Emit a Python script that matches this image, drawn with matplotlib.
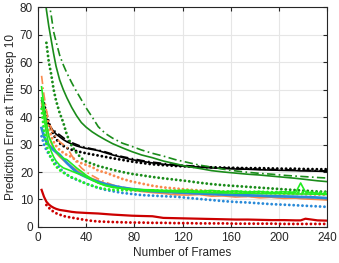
import numpy as np
import matplotlib
matplotlib.use("Agg")
import matplotlib.pyplot as plt

nan = np.nan
frames = [3, 5, 7, 9, 11, 13, 15, 18, 21, 24, 28, 32, 36, 40, 45, 50, 56, 62, 70, 78, 86, 95,
          104, 114, 124, 134, 144, 154, 164, 174, 184, 194, 204, 214, 218, 222, 232, 240]

dg_solid = [110, 88, 79, 73, 68, 63, 58.5, 53.5, 50, 47, 43.5, 40.5, 38, 36.3, 34.6, 33.2, 31.7, 30.3, 28.8, 27.4, 26.2, 25.2,
            24.0, 23.0, 22.0, 21.3, 20.5, 20.0, 19.6, 19.2, 18.9, 18.5, 18.1, 17.7, 17.5, 17.3, 16.8, 16.5]
dg_dashdot = [150, 120, 95, 82, 77, 71, 67.5, 62.5, 59, 56, 52.5, 49.3, 46.3, 43.3, 40, 36.5, 34, 32.3, 30.5, 29.3, 28, 26.8,
              25.8, 24.5, 23.5, 22.5, 21.8, 21.0, 20.4, 19.9, 19.5, 19.2, 18.8, 18.5, 18.4, 18.3, 18.0, 17.8]
dg_dot = [nan, nan, 67, 60, 55.5, 50, 46, 41.5, 38, 33.5, 29.5, 27, 25, 23.8, 23, 22.2, 21.5, 20.8, 20, 19.3, 18.8, 18.2,
          17.7, 17.2, 16.7, 16.1, 15.6, 15.2, 14.9, 14.6, 14.3, 14.0, 13.7, 13.4, 13.3, 13.2, 12.9, 12.8]

bk_solid = [46, 42, 39.5, 37.5, 36, 34.8, 33.8, 32.8, 31.8, 31, 30.2, 29.5, 29, 28.6, 28.2, 27.8, 27, 26.2, 25.3, 24.5, 23.9, 23.3,
            22.8, 22.4, 22.0, 21.8, 21.5, 21.3, 21.1, 21.0, 20.8, 20.7, 20.6, 20.5, 20.4, 20.4, 20.3, 20.2]
bk_dashdot = [44, 41, 38.5, 37, 36, 35.3, 34.5, 33.5, 32.5, 31.5, 30.7, 30, 29.3, 28.9, 28.4, 28, 27.3, 26.5, 25.6, 24.9, 24.2, 23.6,
              23.1, 22.7, 22.3, 22.0, 21.7, 21.5, 21.3, 21.2, 21.0, 20.9, 20.8, 20.7, 20.7, 20.6, 20.5, 20.4]
bk_dot = [nan, 45, 41, 38, 35.5, 33.5, 32, 30.5, 29.5, 28.7, 28.1, 27.6, 27.2, 26.8, 26.4, 26, 25.5, 25, 24.4, 23.8, 23.3, 22.8,
          22.5, 22.2, 22.0, 21.8, 21.7, 21.6, 21.5, 21.4, 21.4, 21.3, 21.2, 21.2, 21.1, 21.1, 21.0, 21.0]

or_dashdot = [55, 48, 42.5, 38.5, 36, 34, 32.5, 31, 30, 29, 26, 23.5, 21.5, 20, 18.7, 17.5, 16.3, 15.3, 14.5, 13.9, 13.4, 13.0,
              12.6, 12.3, 12.1, 11.9, 11.7, 11.5, 11.3, 11.1, 11.0, 10.8, 10.7, 10.6, 10.5, 10.5, 10.4, 10.3]
or_solid = [45, 40, 36, 33, 30.5, 28.5, 27, 25.5, 24.3, 23.2, 22, 20.8, 19.6, 18.6, 17.6, 16.8, 15.8, 14.8, 14, 13.4, 12.9, 12.5,
            12.2, 11.7, 11.6, 11.8, 11.2, 11.3, 10.9, 11.1, 10.6, 10.8, 10.4, 10.5, 10.3, 10.2, 10.0, 9.8]
or_dot = [nan, nan, 40, 36, 33, 31, 29.5, 28, 27, 26.2, 25.5, 24, 23.2, 22.6, 21.8, 20.5, 19.8, 18.8, 17.5, 16.5, 15.8, 15.0,
          14.4, 14.0, 13.6, 13.3, 13.0, 12.8, 12.6, 12.5, 12.3, 12.2, 12.1, 12.0, 12.0, 11.9, 11.8, 11.7]

lg_solid = [51, 44, 38, 33, 31, 29, 27.5, 26, 25, 24.5, 23, 21.5, 20.2, 18.8, 17.3, 16, 15, 14.4, 14.0, 13.8, 13.6, 13.5,
            13.3, 13.2, 13.4, 12.9, 13.3, 12.8, 13.1, 12.7, 12.9, 12.5, 12.8, 12.6, 16.0, 12.7, 12.3, 12.0]
lg_dashdot = [47, 40, 34, 30, 27.5, 25.5, 24, 22.5, 21.5, 21, 20.3, 19.6, 19, 18.2, 17, 16, 15.2, 14.6, 14, 13.6, 13.3, 13.1,
              12.9, 12.8, 12.7, 12.6, 12.5, 12.4, 12.3, 12.3, 12.2, 12.1, 12.1, 12.0, 12.0, 12.0, 11.9, 11.8]
lg_dot = [43, 35, 30, 27, 25, 23.2, 22, 20.7, 19.8, 19, 18, 17.4, 16.5, 15.7, 15, 14.3, 13.8, 13.5, 13.4, 13.3, 13.3, 13.3,
          13.2, 13.2, 13.1, 13.1, 13.0, 12.9, 12.9, 12.8, 12.8, 12.7, 12.7, 12.6, 12.6, 12.6, 12.5, 12.5]

bl_solid = [36, 33, 31, 29.8, 28.8, 28, 27.3, 26.3, 24.8, 23.3, 21.6, 20, 19, 18.2, 17.2, 16.4, 15.6, 15.0, 14.3, 13.8, 13.4, 13.0,
            12.8, 12.6, 12.4, 12.2, 12.0, 11.8, 11.6, 11.5, 11.4, 11.2, 11.1, 11.0, 10.9, 10.9, 10.7, 10.5]
bl_dot = [33, 30, 28, 26.5, 25, 24, 23, 21.5, 20, 19, 18, 17.2, 16.5, 15.8, 15, 14.2, 13.5, 13, 12.4, 12.0, 11.6, 11.4,
          11.2, 11.0, 10.6, 10.2, 9.8, 9.4, 9.1, 8.9, 8.6, 8.3, 8.1, 7.9, 7.8, 7.7, 7.5, 7.3]

rd_solid = [13.5, 11, 9.2, 8.2, 7.5, 7, 6.6, 6.2, 6, 5.8, 5.5, 5.3, 5.2, 5.1, 5.0, 4.9, 4.7, 4.5, 4.3, 4.1, 4.0, 3.9,
            3.3, 3.2, 3.1, 3.0, 2.9, 2.8, 2.7, 2.7, 2.6, 2.5, 2.5, 2.4, 2.4, 3.0, 2.4, 2.3]
rd_dot = [nan, nan, 8, 7, 6.2, 5.5, 5, 4.5, 4, 3.7, 3.4, 3.1, 2.8, 2.5, 2.2, 2.0, 1.9, 1.8, 1.7, 1.6, 1.6, 1.5,
          1.5, 1.4, 1.4, 1.3, 1.3, 1.3, 1.2, 1.2, 1.2, 1.2, 1.1, 1.1, 1.1, 1.1, 1.1, 1.1]

x_ticks = [0, 40, 80, 120, 160, 200, 240]
y_ticks = [0, 10, 20, 30, 40, 50, 60, 70, 80]
x_label = "Number of Frames"
y_label = "Prediction Error at Time-step 10"

C_DG = "#1a8c1a"
C_BK = "#000000"
C_OR = "#fa8a4e"
C_LG = "#22ee22"
C_BL = "#2a8ad8"
C_RD = "#cc0000"

plt.rcParams['font.family'] = ['Liberation Sans', 'DejaVu Sans']

fig = plt.figure(figsize=(3.39, 2.63), dpi=100)
ax = fig.add_axes([0.112, 0.137, 0.853, 0.836])

solid_lw = 1.2
dd = dict(lw=1.2, linestyle=(0, (5, 2, 1, 2)))
dot = dict(lw=2.1, linestyle=(0, (0.01, 1.5)), dash_capstyle='round')

x = np.array(frames)

series = [
    (bk_dot, C_BK, dot), (bk_dashdot, C_BK, dd), (bk_solid, C_BK, dict(lw=solid_lw)),
    (dg_dot, C_DG, dot), (dg_dashdot, C_DG, dd), (dg_solid, C_DG, dict(lw=solid_lw)),
    (or_dot, C_OR, dot), (or_dashdot, C_OR, dd), (or_solid, C_OR, dict(lw=solid_lw)),
    (bl_dot, C_BL, dot), (bl_solid, C_BL, dict(lw=2.0)),
    (lg_dot, C_LG, dot), (lg_dashdot, C_LG, dict(lw=solid_lw)), (lg_solid, C_LG, dict(lw=solid_lw)),
    (rd_dot, C_RD, dot), (rd_solid, C_RD, dict(lw=1.6)),
]
for vals, col, st in series:
    ax.plot(x, vals, color=col, **st)

ax.set_xlim(0, 240)
ax.set_ylim(0, 80)
ax.set_xticks(x_ticks)
ax.set_yticks(y_ticks)
ax.grid(True, color="#e6e6e6", lw=0.8)
ax.set_axisbelow(True)
ax.tick_params(direction='in', length=3, width=0.8, colors="#262626", labelsize=8.5,
               top=True, right=True, labeltop=False, labelright=False)
for s in ax.spines.values():
    s.set_color("#262626")
    s.set_linewidth(0.8)
ax.set_xlabel(x_label, fontsize=8.5, color="#262626", labelpad=2)
ax.set_ylabel(y_label, fontsize=8.5, color="#262626", labelpad=2)

fig.savefig("out.png", dpi=100)
